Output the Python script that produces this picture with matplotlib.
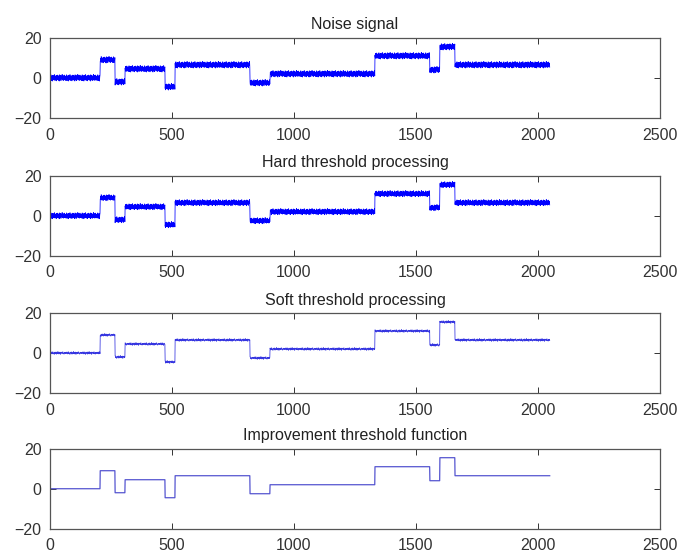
import matplotlib.pyplot as plt
import numpy as np

plt.rcParams['font.family'] = ['Liberation Sans', 'DejaVu Sans']

# blocks test signal, 2048 samples
n_samples = 2048
edges = [0, 205, 266, 307, 471, 512, 819, 901, 1331, 1556, 1597, 1659, 2048]
levels = [0, 9, -2, 4.5, -4.5, 6.5, -2.5, 2, 11, 4, 15.5, 6.5]

# noise (one period, repeated along the signal)
noise_raw = [0.8, -1.2, 0.3, 1.5, -0.6, -1.4, 0.9, 0.1, -0.3, 1.1, -1.6, 0.4,
             1.3, -0.9, -0.2, 0.7, -1.1, 1.6, 0.2, -0.5, -1.3, 0.6, 1.0, -0.8,
             0.5, -1.5, 1.2, -0.1, -0.7, 1.4, -1.0, 0.0, 1.1, -0.4, -1.2, 0.9,
             0.3, -1.6, 1.5, -0.3, 0.6, -0.9, 1.3, 0.2, -1.4, 0.8, -0.6, 1.0,
             -0.2, 1.7, -1.1, 0.4, -0.8, 1.2, 0.1, -1.3, 0.7, -0.5, 1.4, -1.0,
             0.5, -0.1, 0.9, -1.2]
noise_hard = [0.7, -1.1, 0.0, 1.4, -0.5, -1.3, 0.9, 0.0, 0.0, 1.0, -1.5, 0.4,
              1.2, -0.9, 0.0, 0.6, -1.0, 1.5, 0.0, -0.5, -1.2, 0.6, 0.9, -0.8,
              0.5, -1.4, 1.1, 0.0, -0.7, 1.3, -0.9, 0.0, 1.0, -0.4, -1.1, 0.8,
              0.0, -1.5, 1.4, 0.0, 0.6, -0.8, 1.2, 0.0, -1.3, 0.7, -0.6, 0.9,
              0.0, 1.6, -1.0, 0.4, -0.7, 1.1, 0.0, -1.2, 0.6, -0.5, 1.3, -0.9,
              0.5, 0.0, 0.8, -1.1]
noise_soft = [0.3, 0.3, -0.2, -0.2, 0.5, 0.5, 0.0, -0.4, -0.4, 0.2, 0.6, 0.6,
              -0.3, -0.3, 0.1, 0.1, -0.6, -0.6, 0.4, 0.4, 0.0, 0.0, -0.2, 0.5,
              0.5, -0.5, -0.5, 0.2, 0.2, 0.0, -0.3, 0.7, 0.7, 0.1, -0.4, -0.4,
              0.3, 0.3, -0.1, -0.1, 0.5, -0.6, -0.6, 0.2, 0.2, 0.0, 0.4, 0.4,
              -0.3, -0.3, 0.1, 0.6, 0.6, -0.2, -0.2, 0.0, -0.5, -0.5, 0.3, 0.3,
              0.0, 0.4, -0.2, -0.2]

titles = ['Noise signal', 'Hard threshold processing',
          'Soft threshold processing', 'Improvement threshold function']

clean = np.repeat(levels, np.diff(edges))
reps = n_samples // len(noise_raw)
signals = [clean + np.tile(noise_raw, reps),
           clean + np.tile(noise_hard, reps),
           clean + np.tile(noise_soft, reps),
           clean]
x = np.arange(1, n_samples + 1)

fig = plt.figure(figsize=(6.94, 5.56), dpi=100)
bottoms = [0.788, 0.540, 0.293, 0.049]
styles = [('#0000ff', 0.55), ('#0000ff', 0.55), ('#3535e0', 0.55), ('#5555d0', 0.9)]

for i in range(4):
    ax = fig.add_axes([0.072, bottoms[i], 0.879, 0.144])
    color, lw = styles[i]
    ax.plot(x, signals[i], color=color, linewidth=lw)
    ax.set_xlim(0, 2500)
    ax.set_ylim(-20, 20)
    ax.set_xticks([0, 500, 1000, 1500, 2000, 2500])
    ax.set_yticks([-20, 0, 20])
    ax.tick_params(direction='in', length=4, width=0.7, top=True, right=True,
                   labelsize=11.5, colors='#333333')
    ax.tick_params(axis='x', pad=7)
    ax.tick_params(axis='y', pad=6)
    for s in ax.spines.values():
        s.set_color('#555555')
        s.set_linewidth(0.9)
    ax.set_title(titles[i], fontsize=11.5, color='#222222', pad=6)

fig.savefig('out.png', dpi=100)
